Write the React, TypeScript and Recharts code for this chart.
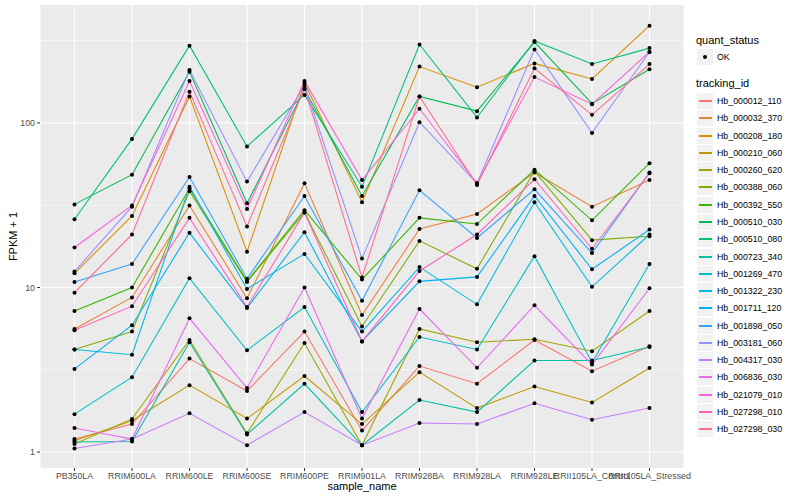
import React from 'react';
import { LineChart, Line, XAxis, YAxis, CartesianGrid } from 'recharts';

const FONT = '"Liberation Sans", Arial, Helvetica, sans-serif';

const categories = [
  'PB350LA', 'RRIM600LA', 'RRIM600LE', 'RRIM600SE', 'RRIM600PE', 'RRIM901LA',
  'RRIM928BA', 'RRIM928LA', 'RRIM928LE', 'RRII105LA_Control', 'RRII105LA_Stressed',
];

const trackingIds = [
  'Hb_000012_110', 'Hb_000032_370', 'Hb_000208_180', 'Hb_000210_060', 'Hb_000260_620',
  'Hb_000388_060', 'Hb_000392_550', 'Hb_000510_030', 'Hb_000510_080', 'Hb_000723_340',
  'Hb_001269_470', 'Hb_001322_230', 'Hb_001711_120', 'Hb_001898_050', 'Hb_003181_060',
  'Hb_004317_030', 'Hb_006836_030', 'Hb_021079_010', 'Hb_027298_010', 'Hb_027298_030',
];

const trackingColors = [
  '#F8766D', '#EA8331', '#D89000', '#C09B00', '#A3A500',
  '#7CAE00', '#39B600', '#00BB4E', '#00BF7D', '#00C1A3',
  '#00BFC4', '#00BAE0', '#00B0F6', '#35A2FF', '#9590FF',
  '#C77CFF', '#E76BF3', '#FA62DB', '#FF62BC', '#FF6C91',
];

// FPKM + 1 per sample, in the order of `categories`
const hb000012_110 = [1.2, 1.48, 3.7, 2.35, 5.4, 1.35, 3.33, 2.6, 4.8, 3.1, 4.4];
const hb000032_370 = [5.6, 8.7, 31.5, 8.6, 43, 6.8, 22.7, 28, 50, 31, 45];
const hb000208_180 = [12.2, 27.2, 145, 16.5, 175, 33, 220, 165, 230, 185, 390];
const hb000210_060 = [1.17, 1.55, 2.55, 1.6, 2.9, 1.48, 3.06, 1.85, 2.5, 2.0, 3.24];
const hb000260_620 = [1.12, 1.59, 4.8, 1.3, 4.6, 1.1, 5.6, 4.65, 4.85, 4.1, 7.2];
const hb000388_060 = [4.2, 5.4, 38.5, 10.8, 28.6, 5.8, 19.2, 13, 51, 19.4, 20.5];
const hb000392_550 = [7.2, 10, 40, 10.9, 29.5, 11.2, 26.5, 24.3, 52, 25.6, 57];
const hb000510_030 = [32, 48.5, 205, 32.5, 160, 36, 145, 118, 310, 131, 212];
const hb000510_080 = [26, 80, 295, 72, 148, 41, 300, 108, 315, 228, 285];
const hb000723_340 = [1.15, 1.16, 4.65, 1.28, 2.6, 1.1, 2.07, 1.75, 3.6, 3.6, 4.35];
const hb001269_470 = [1.7, 2.85, 11.4, 4.15, 7.6, 1.75, 5.0, 4.2, 15.5, 3.5, 13.9];
const hb001322_230 = [4.2, 3.9, 41, 9.8, 16, 5.4, 13.3, 7.9, 33, 10.1, 21];
const hb001711_120 = [3.2, 5.9, 21.5, 7.5, 21.7, 4.7, 10.9, 11.6, 36, 12.9, 22.5];
const hb001898_050 = [10.8, 13.9, 47, 11.3, 36, 8.3, 39, 20, 39.5, 16.2, 50];
const hb003181_060 = [12.5, 31, 210, 44, 170, 15, 101, 43, 280, 87, 270];
const hb004317_030 = [1.05, 1.2, 1.72, 1.1, 1.75, 1.1, 1.5, 1.48, 1.98, 1.57, 1.85];
const hb006836_030 = [1.4, 1.2, 6.5, 2.45, 10, 1.6, 7.4, 3.25, 7.8, 3.4, 9.9];
const hb021079_010 = [17.5, 31.5, 180, 30, 180, 45, 122, 43, 190, 130, 270];
const hb027298_010 = [5.5, 7.7, 26.5, 7.6, 28.6, 4.7, 12.6, 21, 45.5, 17.2, 49.5];
const hb027298_030 = [9.3, 21, 155, 23.5, 163, 11.5, 145, 42, 215, 112, 228];

const seriesValues = [
  hb000012_110, hb000032_370, hb000208_180, hb000210_060, hb000260_620,
  hb000388_060, hb000392_550, hb000510_030, hb000510_080, hb000723_340,
  hb001269_470, hb001322_230, hb001711_120, hb001898_050, hb003181_060,
  hb004317_030, hb006836_030, hb021079_010, hb027298_010, hb027298_030,
];

const majorTicks = [1, 10, 100];
const minorTicks = [3.1623, 31.623, 316.23];
const yDomain = [0.8, 521];

const data = categories.map((c, i) => {
  const row: Record<string, any> = { sample_name: c };
  trackingIds.forEach((id, k) => {
    row[id] = seriesValues[k][i];
  });
  return row;
});

function LegendBlock() {
  const rowH = 17.28;
  return (
    <div style={{ position: 'absolute', left: 0, top: 0, width: 800, height: 500, pointerEvents: 'none', fontFamily: FONT }}>
      <div style={{ position: 'absolute', left: 696, top: 34, fontSize: 11, lineHeight: '13px', color: '#000', whiteSpace: 'nowrap' }}>quant_status</div>
      <div style={{ position: 'absolute', left: 697, top: 49, width: 16, height: 16, background: '#F2F2F2' }}>
        <div style={{ position: 'absolute', left: 6, top: 6, width: 4, height: 4, borderRadius: 2, background: '#000' }} />
      </div>
      <div style={{ position: 'absolute', left: 717, top: 52, fontSize: 8.8, lineHeight: '10px', color: '#000' }}>OK</div>
      <div style={{ position: 'absolute', left: 696, top: 77, fontSize: 11, lineHeight: '13px', color: '#000', whiteSpace: 'nowrap' }}>tracking_id</div>
      {trackingIds.map((id, k) => (
        <React.Fragment key={id}>
          <div style={{ position: 'absolute', left: 697, top: Math.round(93 + k * rowH), width: 16, height: 16, background: '#F2F2F2' }}>
            <div style={{ position: 'absolute', left: 1.5, top: 7, width: 13, height: 1.6, background: trackingColors[k] }} />
          </div>
          <div style={{ position: 'absolute', left: 717, top: 96 + k * rowH, fontSize: 8.8, lineHeight: '10px', color: '#000', whiteSpace: 'nowrap' }}>{id}</div>
        </React.Fragment>
      ))}
    </div>
  );
}

export default function App() {
  return (
    <div style={{ position: 'absolute', left: 0, top: 0, width: 800, height: 500, background: '#FFFFFF', fontFamily: FONT }}>
      <LineChart width={800} height={500} data={data} margin={{ top: 5, right: 116, bottom: 12, left: 10 }}>
        <CartesianGrid fill="#EBEBEB" stroke="#FFFFFF" strokeWidth={1.07} horizontalValues={majorTicks} />
        <CartesianGrid vertical={false} stroke="#FFFFFF" strokeWidth={0.53} horizontalValues={minorTicks} />
        <XAxis
          dataKey="sample_name"
          interval={0}
          padding={{ left: 34.5, right: 34.5 }}
          tick={{ fill: '#4D4D4D', fontSize: 8.8, fontFamily: FONT }}
          tickSize={3}
          tickMargin={2}
          axisLine={false}
          tickLine={{ stroke: '#333333' }}
          height={20}
          label={{ value: 'sample_name', position: 'bottom', offset: -6, fill: '#000', fontSize: 11, fontFamily: FONT }}
        />
        <YAxis
          scale="log"
          domain={yDomain}
          allowDataOverflow
          ticks={majorTicks}
          tick={{ fill: '#4D4D4D', fontSize: 8.8, fontFamily: FONT }}
          tickSize={3}
          tickMargin={2}
          axisLine={false}
          tickLine={{ stroke: '#333333' }}
          width={30}
          label={{ value: 'FPKM + 1', angle: -90, position: 'insideLeft', offset: 3, fill: '#000', fontSize: 11, fontFamily: FONT, style: { textAnchor: 'middle' } }}
        />
        {trackingIds.map((id, k) => (
          <Line
            key={id}
            type="linear"
            dataKey={id}
            name={id}
            stroke={trackingColors[k]}
            strokeWidth={1.07}
            dot={{ r: 2, fill: '#000', stroke: 'none' }}
            activeDot={false}
            isAnimationActive={false}
          />
        ))}
      </LineChart>
      <LegendBlock />
    </div>
  );
}
